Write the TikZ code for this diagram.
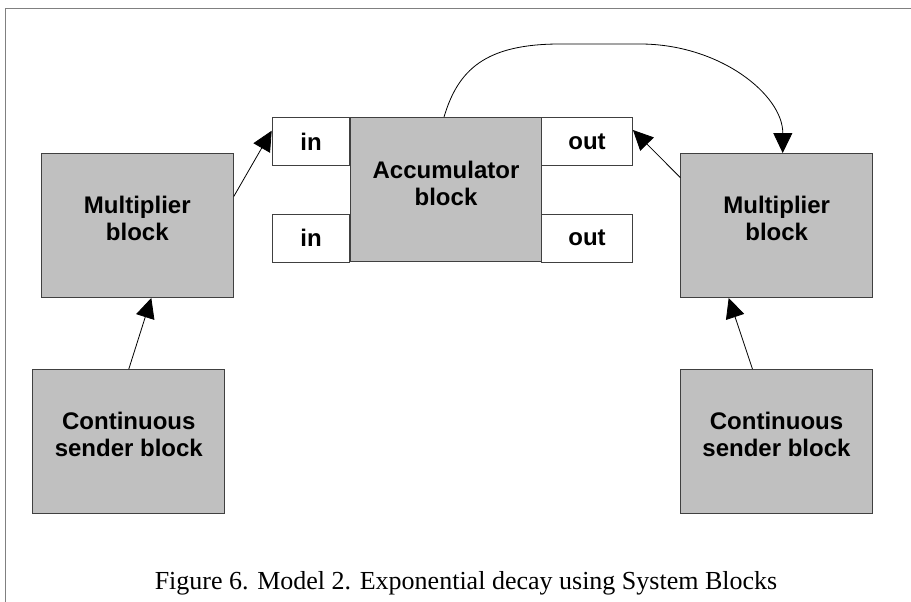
\documentclass[tikz,border=0pt]{standalone}
\usepackage{fontspec}
\setmainfont{Liberation Serif}
\setsansfont{Liberation Sans}
\usetikzlibrary{arrows.meta}
\definecolor{blockgray}{HTML}{C0C0C0}
\definecolor{edgegray}{HTML}{404040}
\definecolor{framegray}{HTML}{808080}
\tikzset{
  block/.style={draw=edgegray, fill=blockgray, line width=0.9pt,
    minimum width=192pt, minimum height=144pt, inner sep=0pt},
  blocktext/.style={align=center, yshift=7pt,
    font=\sffamily\bfseries\fontsize{24}{27}\selectfont},
  port/.style={draw=edgegray, fill=white, line width=0.9pt,
    minimum height=48pt, inner sep=0pt,
    font=\sffamily\bfseries\fontsize{24}{27}\selectfont},
  link/.style={line width=0.8pt, -{Triangle[length=20pt,width=19pt]}},
}
\begin{document}
\begin{tikzpicture}[x=1pt,y=-1pt]
  \useasboundingbox (0,0) rectangle (911,602);
  %% frame
  \draw[framegray, line width=1pt] (5,602) -- (5,9) -- (911,9);
  %% accumulator with its ports
  \node[block, minimum width=191.7pt,
    label={[blocktext,yshift=-1pt]center:Accumulator\\block}] (acc) at (446,189.5) {};
  \node[port, minimum width=77.7pt] (inA) at (311,141.5) {in};
  \node[port, minimum width=77.7pt] (inB) at (311,238) {in};
  \node[port, minimum width=91pt] (outA) at (587,141.5) {out};
  \node[port, minimum width=91pt] (outB) at (587,238) {out};
  %% multipliers
  \node[block, label={[blocktext]center:Multiplier\\block}] (multL) at (137.3,225.5) {};
  \node[block, label={[blocktext]center:Multiplier\\block}] (multR) at (776.7,225.5) {};
  %% senders
  \node[block, label={[blocktext]center:Continuous\\sender block}] (sendL) at (128.8,441.5) {};
  \node[block, label={[blocktext]center:Continuous\\sender block}] (sendR) at (776.5,441.5) {};
  %% connectors
  \draw[link] (sendL.north) -- ([xshift=14pt]multL.south);
  \draw[link] ([xshift=-24pt]sendR.north) -- ([xshift=-48pt]multR.south);
  \draw[link] ([yshift=29pt]multL.east) -- ([yshift=10.8pt]inA.west);
  \draw[link] ([yshift=48pt]multR.west) -- ([yshift=11.5pt]outA.east);
  \draw[link] ([xshift=-2pt]acc.north) .. controls (458,70) and (485,44) .. (560,44)
    -- (640,44) .. controls (720,44) and (783,95) .. ([xshift=6pt]multR.north);
  %% caption
  \node[anchor=base, font=\fontsize{26}{30}\selectfont] (cap) at (466,589)
    {Figure 6. Model 2. Exponential decay using System Blocks};
\end{tikzpicture}
\end{document}
